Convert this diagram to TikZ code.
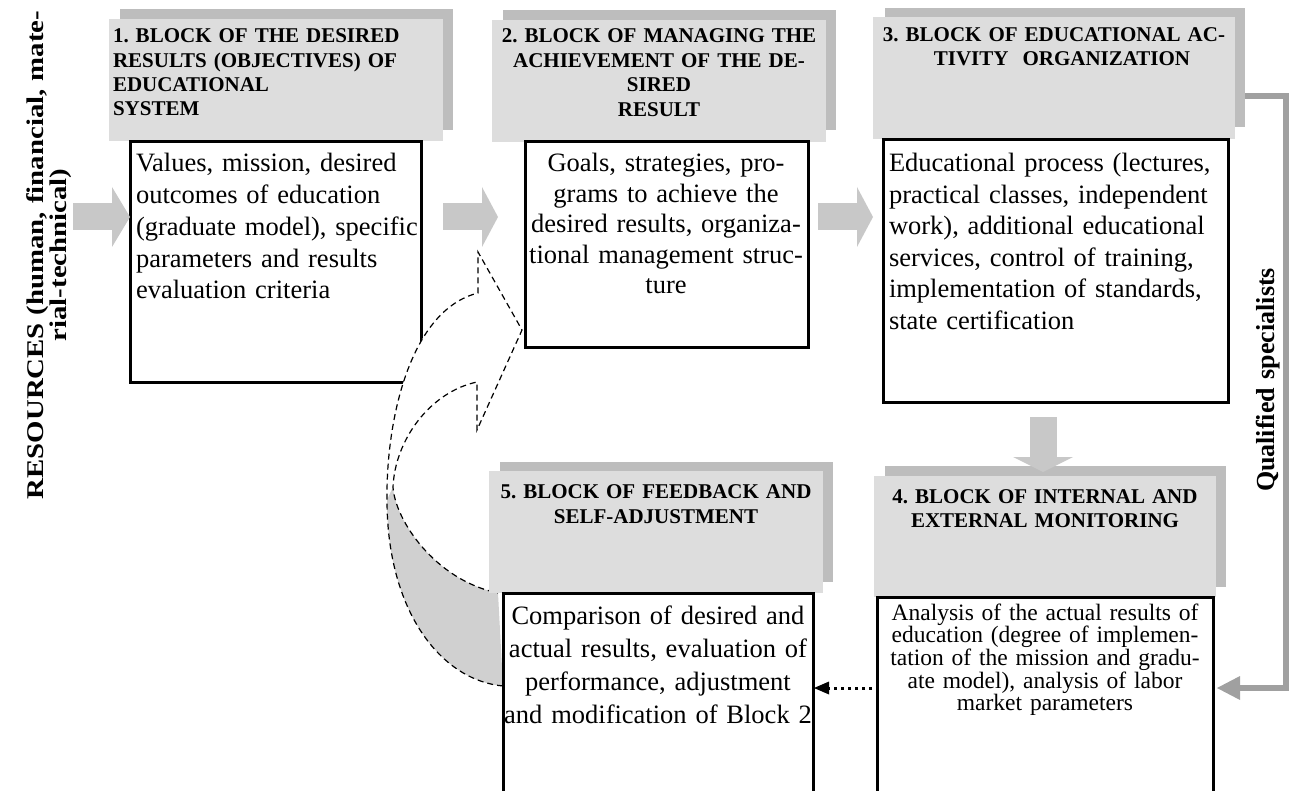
\documentclass[tikz,border=0pt]{standalone}
\usepackage{fontspec}
\setmainfont{Liberation Serif}
\newfontfamily\resfont{Liberation Serif}[FakeStretch=1.2]
\usetikzlibrary{arrows.meta}
\definecolor{hfrontc}{HTML}{DDDDDD}
\definecolor{hshadowc}{HTML}{BDBDBD}
\definecolor{arrowgray}{HTML}{C8C8C8}
\definecolor{curvegray}{HTML}{D0D0D0}
\definecolor{specgray}{HTML}{A0A0A0}
\begin{document}
\frenchspacing
\begin{tikzpicture}[x=1pt,y=-1pt,
  hshadow/.style={fill=hshadowc, inner sep=0pt, outer sep=0pt, anchor=north west},
  hfront/.style={fill=hfrontc, inner sep=0pt, outer sep=0pt, anchor=north west},
  cbox/.style={draw=black, line width=3pt, fill=white, inner sep=0pt, outer sep=0pt, anchor=north west},
  txt/.style={inner sep=0pt, outer sep=0pt},
  fatarrow/.style={draw=arrowgray, line width=27pt, -{Triangle[length=16pt,width=60pt,line width=0pt]}},
  dashcurve/.style={draw=black, line width=1.2pt, dash pattern=on 6pt off 4pt},
  dotarrow/.style={draw=black, line width=3pt, dash pattern=on 3pt off 4pt, -{Triangle[length=15pt,width=13pt,line width=0pt]}},
  specline/.style={draw=specgray, line width=6pt, line join=miter, -{Triangle[length=23pt,width=24pt,line width=0pt]}}
]
\useasboundingbox (0,0) rectangle (1290,791);

% right connector (drawn first, header covers its start)
\coordinate (q0) at (1240,96);
\coordinate (q1) at (1286,96);
\coordinate (q2) at (1286,688);
\coordinate (q3) at (1217,688);
\draw[specline] (q0) -- (q1) -- (q2) -- (q3);

% headers
\node[hshadow, minimum width=333, minimum height=121] (h1s) at (120,9) {};
\node[hfront, minimum width=334, minimum height=122] (h1) at (109,19) {};
\node[hshadow, minimum width=333, minimum height=120] (h2s) at (503,10) {};
\node[hfront, minimum width=334, minimum height=122] (h2) at (492,20) {};
\node[hshadow, minimum width=360, minimum height=119] (h3s) at (885,8) {};
\node[hfront, minimum width=362, minimum height=122] (h3) at (873,17) {};
\node[hshadow, minimum width=341, minimum height=121] (h4s) at (885,466) {};
\node[hfront, minimum width=342, minimum height=121] (h4) at (874,476) {};

\node[txt, anchor=base west, text width=330, align=left, font=\fontsize{21}{24.3}\selectfont\bfseries] (h1t) at (113,43)
  {1. BLOCK OF THE DESIRED\\RESULTS (OBJECTIVES) OF\\EDUCATIONAL\\SYSTEM};
\node[txt, anchor=base, text width=380, align=center, font=\fontsize{21}{24.5}\selectfont\bfseries] (h2t) at (659,43)
  {2. BLOCK OF MANAGING THE\\ACHIEVEMENT OF THE DE-\\SIRED\\RESULT};
\node[txt, anchor=base, text width=400, align=center, font=\fontsize{21}{23.5}\selectfont\bfseries] (h3t) at (1054,42)
  {3. BLOCK OF EDUCATIONAL AC-\\\hspace*{16pt}TIVITY\ \ ORGANIZATION};
\node[txt, anchor=base, text width=400, align=center, font=\fontsize{21}{24}\selectfont\bfseries] (h4t) at (1045,503)
  {4. BLOCK OF INTERNAL AND\\EXTERNAL MONITORING};

% content boxes (top row)
\node[cbox, minimum width=291, minimum height=240] (b1) at (130,142) {};
\node[cbox, minimum width=283, minimum height=206] (b2) at (525,142) {};
\node[cbox, minimum width=345, minimum height=262] (b3) at (883,140) {};

\node[txt, anchor=base west, text width=285, align=left, font=\fontsize{26.5}{31.7}\selectfont] (b1t) at (136,172)
  {Values, mission, desired\\outcomes of education\\(graduate model), specific\\parameters and results\\evaluation criteria};
\node[txt, anchor=base, text width=330, align=center, font=\fontsize{26.5}{30.5}\selectfont] (b2t) at (666,172)
  {Goals, strategies, pro-\\grams to achieve the\\desired results, organiza-\\tional management struc-\\ture};
\node[txt, anchor=base west, text width=340, align=left, font=\fontsize{26.5}{31.5}\selectfont] (b3t) at (889,172)
  {Educational process (lectures,\\practical classes, independent\\work), additional educational\\services, control of training,\\implementation of standards,\\state certification};

% curved feedback arrow (white body with dashed outline, grey underside)
\path[fill=white] (503,686) .. controls (440,680) and (387,610) .. (387,500)
  .. controls (386,420) and (410,310) .. (478,293) -- (478,252) -- (522,330) -- (477,430) -- (477,382)
  .. controls (430,392) and (395,440) .. (393,487)
  .. controls (395,520) and (435,580) .. (498,593) -- cycle;
\fill[curvegray] (393,487) .. controls (395,520) and (435,580) .. (498,593) -- (503,686)
  .. controls (440,680) and (387,610) .. (387,500) -- cycle;
\draw[dashcurve] (503,686) .. controls (440,680) and (387,610) .. (387,500)
  .. controls (386,420) and (410,310) .. (478,293) -- (478,252) -- (522,330) -- (477,430) -- (477,382)
  .. controls (430,392) and (395,440) .. (393,487)
  .. controls (395,520) and (435,580) .. (498,593);

% header 5 and bottom boxes
\node[hshadow, minimum width=333, minimum height=120] (h5s) at (500,462) {};
\node[hfront, minimum width=334, minimum height=122] (h5) at (489,471) {};
\node[txt, anchor=base, text width=400, align=center, font=\fontsize{21}{25}\selectfont\bfseries] (h5t) at (656,498)
  {5. BLOCK OF FEEDBACK AND\\SELF-ADJUSTMENT};

\node[cbox, minimum width=336, minimum height=215] (b4) at (877,597) {};
\node[cbox, minimum width=310, minimum height=219] (b5) at (503,593) {};

\node[txt, anchor=base, text width=380, align=center, font=\fontsize{23.5}{22.7}\selectfont] (b4t) at (1045,620)
  {Analysis of the actual results of\\education (degree of implemen-\\tation of the mission and gradu-\\ate model), analysis of labor\\market parameters};
\node[txt, anchor=base, text width=360, align=center, font=\fontsize{26.5}{33}\selectfont] (b5t) at (658,624)
  {Comparison of desired and\\actual results, evaluation of\\performance, adjustment\\and modification of Block 2};

% block arrows
\coordinate (ra0) at (73,217);  \coordinate (ra1) at (130,217);
\coordinate (a12s) at (443,217); \coordinate (a12e) at (498,217);
\coordinate (a23s) at (818,217); \coordinate (a23e) at (873,217);
\coordinate (a34s) at (1043,417); \coordinate (a34e) at (1043,472);
\draw[fatarrow, -{Triangle[length=18pt,width=60pt,line width=0pt]}] (ra0) -- (ra1);
\draw[fatarrow] (a12s) -- (a12e);
\draw[fatarrow] (a23s) -- (a23e);
\draw[fatarrow, -{Triangle[length=15pt,width=60pt,line width=0pt]}] (a34s) -- (a34e);

% dotted arrow from block 4 to block 5
\coordinate (d0) at (872,688);
\coordinate (d1) at (814,688);
\draw[dotarrow] (d0) -- (d1);

% side labels
\node[txt, rotate=90, anchor=base, text width=520, align=center, font=\resfont\fontsize{24}{23}\selectfont\bfseries] (res) at (43,255)
  {RESOURCES (human, financial, mate-\\rial-technical)};
\node[txt, rotate=90, anchor=base, text width=300, align=center, font=\fontsize{26}{26}\selectfont\bfseries] (qs) at (1274,380)
  {Qualified specialists};
\end{tikzpicture}
\end{document}
